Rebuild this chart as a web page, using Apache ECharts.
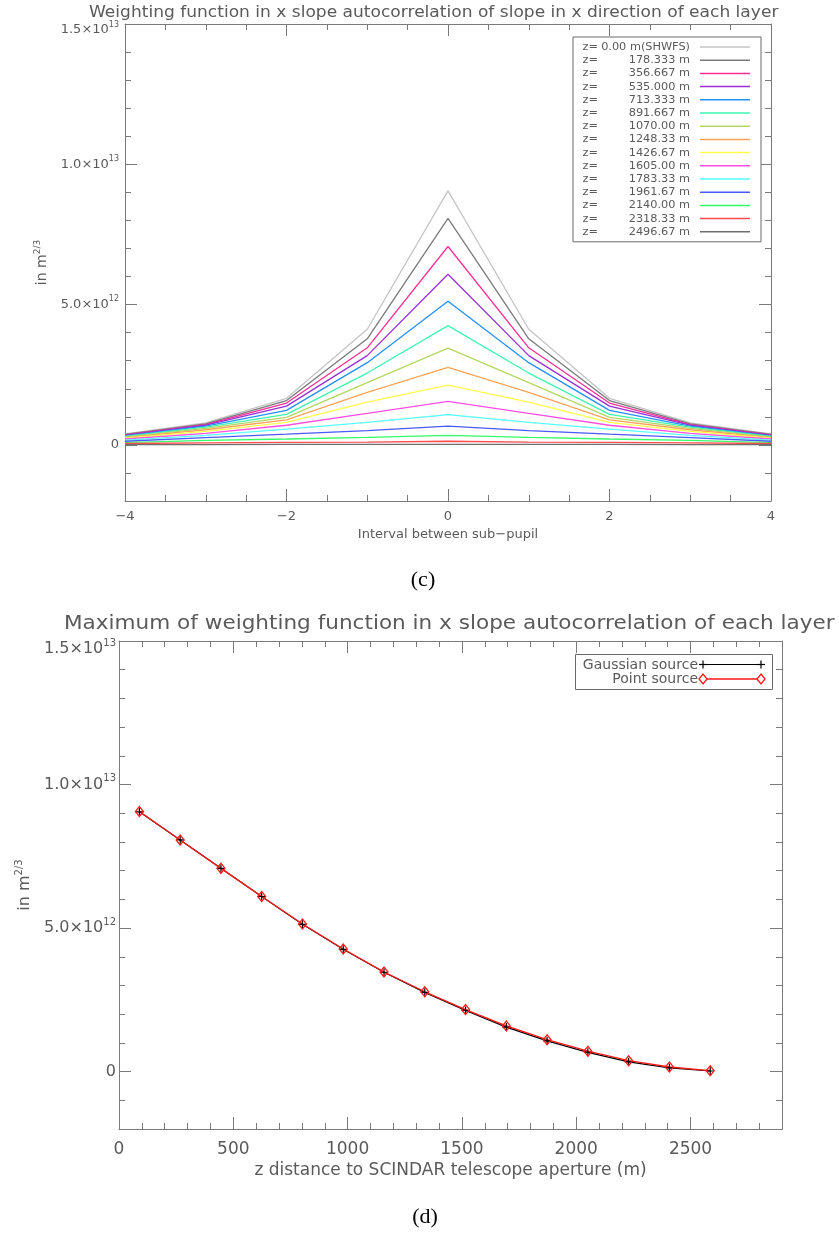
<!DOCTYPE html>
<html>
<head>
<meta charset="utf-8">
<script src="https://cdn.jsdelivr.net/npm/echarts@6/dist/echarts.min.js"></script>
<style>html,body{margin:0;padding:0;background:#fff;}#c{width:839px;height:1239px;}</style>
</head>
<body>
<div id="c"></div>
<script>
// ---------------- DATA ----------------
// (c) x positions: interval between sub-pupils
const subPupilInterval = [-4, -3, -2, -1, 0, 1, 2, 3, 4];
// layer labels (legend of chart c)
const layerLabels = ['0.00 m(SHWFS)', '178.333 m', '356.667 m', '535.000 m', '713.333 m', '891.667 m',
  '1070.00 m', '1248.33 m', '1426.67 m', '1605.00 m', '1783.33 m', '1961.67 m', '2140.00 m', '2318.33 m', '2496.67 m'];
const layerColors = ['#c4c4c4', '#7a7a7a', '#ff2e96', '#9a2fd6', '#2290ff', '#3cf5b0', '#b2d862', '#ffa35a',
  '#ffff4a', '#ff4fe2', '#55ffff', '#4a5aff', '#33ff66', '#ff4b4b', '#6e6e6e'];
// weighting function per layer, in units of 1e12 m^(2/3)
const w00 = [0.39, 0.78, 1.66, 4.12, 9.05, 4.12, 1.66, 0.78, 0.39];
const w01 = [0.37, 0.75, 1.58, 3.78, 8.07, 3.78, 1.58, 0.75, 0.37];
const w02 = [0.36, 0.72, 1.49, 3.46, 7.07, 3.46, 1.49, 0.72, 0.36];
const w03 = [0.34, 0.70, 1.38, 3.18, 6.08, 3.18, 1.38, 0.70, 0.34];
const w04 = [0.32, 0.67, 1.23, 2.93, 5.12, 2.93, 1.23, 0.67, 0.32];
const w05 = [0.30, 0.63, 1.09, 2.56, 4.25, 2.56, 1.09, 0.63, 0.30];
const w06 = [0.28, 0.59, 0.98, 2.22, 3.45, 2.22, 0.98, 0.59, 0.28];
const w07 = [0.26, 0.54, 0.89, 1.87, 2.76, 1.87, 0.89, 0.54, 0.26];
const w08 = [0.24, 0.48, 0.80, 1.52, 2.13, 1.52, 0.80, 0.48, 0.24];
const w09 = [0.21, 0.41, 0.70, 1.12, 1.55, 1.12, 0.70, 0.41, 0.21];
const w10 = [0.17, 0.34, 0.56, 0.80, 1.08, 0.80, 0.56, 0.34, 0.17];
const w11 = [0.13, 0.26, 0.38, 0.51, 0.67, 0.51, 0.38, 0.26, 0.13];
const w12 = [0.08, 0.16, 0.21, 0.27, 0.34, 0.27, 0.21, 0.16, 0.08];
const w13 = [0.05, 0.07, 0.09, 0.10, 0.13, 0.10, 0.09, 0.07, 0.05];
const w14 = [0.01, 0.01, 0.02, 0.02, 0.02, 0.02, 0.02, 0.01, 0.01];
const layerProfiles = [w00, w01, w02, w03, w04, w05, w06, w07, w08, w09, w10, w11, w12, w13, w14];

// (d) distance to telescope aperture (m) and maxima (1e12 m^(2/3))
const zDistance = [89.17, 267.5, 445.83, 624.17, 802.5, 980.83, 1159.17, 1337.5, 1515.83, 1694.17,
  1872.5, 2050.83, 2229.17, 2407.5, 2585.83];
const gaussianMax = [9.05, 8.07, 7.08, 6.10, 5.13, 4.26, 3.46, 2.76, 2.13, 1.55, 1.07, 0.67, 0.34, 0.13, 0.02];
const pointMax = [9.06, 8.07, 7.08, 6.10, 5.14, 4.27, 3.47, 2.78, 2.16, 1.59, 1.11, 0.71, 0.38, 0.16, 0.03];

// tick values
const yMajorTicks = [0, 5, 10, 15];
const yMinorTicks = [-2, -1, 0, 1, 2, 3, 4, 5, 6, 7, 8, 9, 10, 11, 12, 13, 14, 15];
const cMajorTicks = [-4, -2, 0, 2, 4];
const cMinorTicks = [-4, -3.5, -3, -2.5, -2, -1.5, -1, -0.5, 0, 0.5, 1, 1.5, 2, 2.5, 3, 3.5, 4];
const dMajorTicks = [0, 500, 1000, 1500, 2000, 2500];
const dMinorTicks = [0, 100, 200, 300, 400, 500, 600, 700, 800, 900, 1000, 1100, 1200, 1300, 1400, 1500,
  1600, 1700, 1800, 1900, 2000, 2100, 2200, 2300, 2400, 2500, 2600, 2700, 2800, 2900];

// ---------------- STYLE ----------------
const FONT = 'DejaVu Sans';
const TXT = '#5a5a5a';
const AX = '#7a7a7a';

function sciLabel(v) {
  if (v === 0) return '{m|0}';
  const full = v * 1e12;
  const exp = Math.floor(Math.log10(full) + 1e-9);
  const mant = full / Math.pow(10, exp);
  const body = '{m|' + mant.toFixed(1) + '×10}{s|' + exp + '}';
  return v === 15 ? '{e| }\n' + body : body;
}
function rich(fs, shift) {
  return {
    m: { fontSize: fs, fontFamily: FONT, color: TXT, lineHeight: fs + 6 },
    s: { fontSize: Math.round(fs * 0.62), fontFamily: FONT, color: TXT, verticalAlign: 'top' },
    e: { fontSize: 2, lineHeight: 2 * shift }
  };
}

function gridAxes(gi, xmin, xmax, xMajor, xName, xfs, xLabelMargin, xNameGap, yfs, yNameGap, yLabelMargin, topShift, nameFs) {
  const xs = [], ys = [];
  const line = { show: true, onZero: false, lineStyle: { color: AX, width: 1 } };
  xs.push({ gridIndex: gi, type: 'value', min: xmin, max: xmax, position: 'bottom',
    axisLine: line, splitLine: { show: false },
    axisTick: { show: true, inside: true, length: 12, customValues: xMajor, lineStyle: { color: AX } },
    axisLabel: { show: true, customValues: xMajor, margin: xLabelMargin, color: TXT, fontSize: xfs, fontFamily: FONT,
      formatter: v => (v < 0 ? '\u2212' + Math.abs(v) : '' + v) },
    name: xName, nameLocation: 'middle', nameGap: xNameGap,
    nameTextStyle: { color: TXT, fontSize: xfs, fontFamily: FONT } });
  xs.push({ gridIndex: gi, type: 'value', min: xmin, max: xmax, position: 'top',
    axisLine: line, splitLine: { show: false },
    axisTick: { show: true, inside: true, length: 12, customValues: xMajor, lineStyle: { color: AX } },
    axisLabel: { show: false } });
  ys.push({ gridIndex: gi, type: 'value', min: -2, max: 15, position: 'left',
    axisLine: line, splitLine: { show: false },
    axisTick: { show: true, inside: true, length: 12, customValues: yMajorTicks, lineStyle: { color: AX } },
    axisLabel: { show: true, customValues: yMajorTicks, margin: yLabelMargin, formatter: sciLabel, rich: rich(yfs, topShift) },
    name: '{m|in m}{s|2/3}', nameLocation: 'middle', nameGap: yNameGap, nameRotate: 90,
    nameTextStyle: { rich: rich(nameFs, 0) } });
  ys.push({ gridIndex: gi, type: 'value', min: -2, max: 15, position: 'right',
    axisLine: line, splitLine: { show: false },
    axisTick: { show: true, inside: true, length: 12, customValues: yMajorTicks, lineStyle: { color: AX } },
    axisLabel: { show: false } });
  return { xs, ys };
}
function minorAxes(gi, xmin, xmax, xMinor) {
  const xs = [], ys = [];
  const tick = vals => ({ show: true, inside: true, length: 6, customValues: vals, lineStyle: { color: AX } });
  ['bottom', 'top'].forEach(p => xs.push({ gridIndex: gi, type: 'value', min: xmin, max: xmax, position: p,
    axisLine: { show: false, onZero: false }, splitLine: { show: false }, axisTick: tick(xMinor), axisLabel: { show: false } }));
  ['left', 'right'].forEach(p => ys.push({ gridIndex: gi, type: 'value', min: -2, max: 15, position: p,
    axisLine: { show: false, onZero: false }, splitLine: { show: false }, axisTick: tick(yMinorTicks), axisLabel: { show: false } }));
  return { xs, ys };
}

const gC = { left: 125, top: 24, width: 646, height: 477 };
const gD = { left: 119, top: 641, width: 663, height: 488 };

const aC = gridAxes(0, -4, 4, cMajorTicks, 'Interval between sub\u2212pupil', 13, 9, 27, 13, 70, 6, 6, 14);
const aD = gridAxes(1, 0, 2900, dMajorTicks, 'z distance to SCINDAR telescope aperture (m)', 17, 12, 33, 16, 64, 3, 8, 16);
const mC = minorAxes(2, -4, 4, cMinorTicks);
const mD = minorAxes(3, 0, 2900, dMinorTicks);

const xAxis = [].concat(aC.xs, aD.xs, mC.xs, mD.xs);
const yAxis = [].concat(aC.ys, aD.ys, mC.ys, mD.ys);

const series = [];
layerProfiles.forEach((prof, i) => {
  series.push({
    name: layerLabels[i], type: 'line', xAxisIndex: 0, yAxisIndex: 0,
    data: subPupilInterval.map((x, k) => [x, prof[k]]),
    showSymbol: false, symbol: 'none', silent: true, animation: false,
    lineStyle: { color: layerColors[i], width: 1.3 }, itemStyle: { color: layerColors[i] }
  });
});
series.push({
  name: 'Gaussian source', type: 'line', xAxisIndex: 2, yAxisIndex: 2, animation: false,
  data: zDistance.map((z, k) => [z, gaussianMax[k]]),
  symbol: 'path://M5,0L5,10M0,5L10,5', symbolSize: 8,
  itemStyle: { color: '#000', borderColor: '#000', borderWidth: 1.2 },
  lineStyle: { color: '#000', width: 1.2 }
});
series.push({
  name: 'Point source', type: 'line', xAxisIndex: 2, yAxisIndex: 2, animation: false,
  data: zDistance.map((z, k) => [z, pointMax[k]]),
  symbol: 'diamond', symbolSize: [8, 10],
  itemStyle: { color: 'rgba(255,255,255,0)', borderColor: '#ff1a1a', borderWidth: 1.3 },
  lineStyle: { color: '#ff1a1a', width: 1.3 }
});

// legend (d) built from graphic primitives
function plus(cx, cy) {
  return [
    { type: 'line', shape: { x1: cx - 4, y1: cy, x2: cx + 4, y2: cy }, style: { stroke: '#000', lineWidth: 1.2 } },
    { type: 'line', shape: { x1: cx, y1: cy - 4, x2: cx, y2: cy + 4 }, style: { stroke: '#000', lineWidth: 1.2 } }
  ];
}
function diamond(cx, cy) {
  return { type: 'polygon', shape: { points: [[cx, cy - 5], [cx + 4, cy], [cx, cy + 5], [cx - 4, cy]] },
    style: { fill: '#fff', stroke: '#ff1a1a', lineWidth: 1.3 } };
}
const graphic = [
  { type: 'text', x: 89, y: 13, scaleX: 1.137, style: { text: 'Weighting function in x slope autocorrelation of slope in x direction of each layer',
      font: '15px "DejaVu Sans"', fill: TXT, align: 'left', verticalAlign: 'middle' } },
  { type: 'text', x: 64, y: 624, scaleX: 1.135, style: { text: 'Maximum of weighting function in x slope autocorrelation of each layer',
      font: '19px "DejaVu Sans"', fill: TXT, align: 'left', verticalAlign: 'middle' } },
  { type: 'rect', shape: { x: 575.5, y: 654.5, width: 197, height: 35 }, style: { fill: '#fff', stroke: '#6a6a6a', lineWidth: 1 } },
  { type: 'text', x: 698, y: 665, style: { text: 'Gaussian source', font: '14px "DejaVu Sans"', fill: TXT, align: 'right', verticalAlign: 'middle' } },
  { type: 'text', x: 698, y: 679, style: { text: 'Point source', font: '14px "DejaVu Sans"', fill: TXT, align: 'right', verticalAlign: 'middle' } },
  { type: 'line', shape: { x1: 703, y1: 664.5, x2: 761, y2: 664.5 }, style: { stroke: '#000', lineWidth: 1.2 } },
  ...plus(703, 664.5), ...plus(761, 664.5),
  { type: 'line', shape: { x1: 703, y1: 679, x2: 761, y2: 679 }, style: { stroke: '#ff1a1a', lineWidth: 1.3 } },
  diamond(703, 679), diamond(761, 679),
  { type: 'text', x: 423, y: 580, style: { text: '(c)', font: '22px "Liberation Serif"', fill: '#000', align: 'center', verticalAlign: 'middle' } },
  { type: 'text', x: 425, y: 1217, style: { text: '(d)', font: '22px "Liberation Serif"', fill: '#000', align: 'center', verticalAlign: 'middle' } }
];

const option = {
  backgroundColor: '#fff',
  animation: false,
  grid: [gC, gD, gC, gD],
  xAxis, yAxis, series,
  legend: {
    data: layerLabels, orient: 'vertical', left: 573, top: 37, align: 'right',
    icon: 'rect', itemWidth: 50, itemHeight: 1.5, itemGap: 1.2,
    borderColor: '#6a6a6a', borderWidth: 1, padding: [4, 11, 4, 7], backgroundColor: '#fff',
    selectedMode: false,
    formatter: n => '{z|z=}{v|' + n + '}{g|}',
    textStyle: { fontFamily: FONT, fontSize: 11.3, color: TXT, lineHeight: 12,
      rich: { z: { width: 18, fontSize: 11.3, fontFamily: FONT, color: TXT },
              v: { width: 92, align: 'right', fontSize: 11.3, fontFamily: FONT, color: TXT },
              g: { width: 5 } } }
  },
  graphic
};

const chart = echarts.init(document.getElementById('c'), null, { renderer: 'canvas' });
chart.setOption(option);
</script>
</body>
</html>
